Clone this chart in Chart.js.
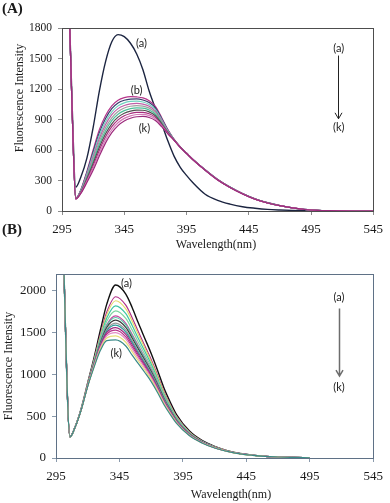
<!DOCTYPE html>
<html>
<head>
<meta charset="utf-8">
<script src="https://cdn.jsdelivr.net/npm/chart.js@4/dist/chart.umd.min.js"></script>
<style>
  html, body { margin: 0; padding: 0; background: #fff; }
  .panel { position: absolute; left: 0; top: 0; width: 390px; height: 503px; }
</style>
</head>
<body>
<div class="panel"><canvas id="chartA" width="390" height="503"></canvas></div>
<div class="panel"><canvas id="chartB" width="390" height="503"></canvas></div>
<script>
// ---- panel (A) data: wavelength (nm) and fluorescence intensity ----
const wavelengthA = [300, 303, 306, 310, 315, 320, 325, 330, 335, 340, 345, 350, 355, 360, 365, 370, 375, 380, 385, 390, 395, 400, 410, 420, 430, 440, 450, 460, 470, 480, 490, 500, 510, 520, 530, 545];
const specA_a = [2350, 1100, 235, 330, 520, 820, 1180, 1470, 1665, 1735, 1715, 1650, 1545, 1390, 1180, 1010, 860, 690, 540, 430, 350, 280, 165, 105, 68, 42, 27, 16, 10, 6, 3, 2, 1, null, null, null];
const specA_b = [2350, 1050, 125, 205, 390, 600, 800, 940, 1035, 1090, 1115, 1125, 1122, 1112, 1085, 1030, 920, 800, 705, 630, 570, 510, 405, 310, 235, 172, 120, 82, 54, 32, 16, 7, 3, 1, 0, 0];
const specA_c = [2350, 1050, 124, 201, 378, 578, 771, 910, 1006, 1062, 1089, 1101, 1103, 1092, 1067, 1014, 910, 796, 704, 630, 570, 510, 405, 310, 235, 172, 120, 82, 54, 32, 16, 7, 3, 1, 0, 0];
const specA_d = [2350, 1050, 123, 197, 366, 556, 742, 880, 976, 1034, 1064, 1078, 1081, 1072, 1048, 999, 900, 791, 703, 629, 569, 509, 404, 309, 234, 171, 119, 81, 53, 32, 16, 7, 3, 1, 0, 0];
const specA_e = [2350, 1050, 123, 193, 353, 533, 713, 850, 947, 1007, 1038, 1054, 1059, 1051, 1030, 983, 890, 787, 702, 629, 569, 509, 404, 309, 234, 171, 119, 81, 53, 31, 16, 7, 3, 1, 0, 0];
const specA_f = [2350, 1050, 122, 189, 341, 511, 685, 820, 917, 979, 1013, 1030, 1037, 1031, 1012, 968, 880, 782, 701, 628, 568, 508, 403, 308, 233, 170, 118, 80, 53, 31, 15, 7, 3, 1, 0, 0];
const specA_g = [2350, 1050, 121, 186, 329, 489, 656, 790, 888, 951, 987, 1007, 1015, 1011, 993, 952, 870, 778, 700, 628, 568, 508, 403, 308, 233, 170, 118, 80, 53, 31, 15, 7, 3, 1, 0, 0];
const specA_h = [2350, 1050, 120, 182, 317, 467, 627, 760, 858, 923, 962, 983, 993, 991, 975, 937, 860, 773, 699, 627, 567, 507, 402, 307, 232, 169, 117, 80, 52, 31, 15, 7, 3, 1, 0, 0];
const specA_i = [2350, 1050, 120, 178, 304, 444, 598, 730, 829, 896, 936, 959, 971, 970, 957, 921, 850, 769, 698, 627, 567, 507, 402, 307, 232, 169, 117, 79, 52, 30, 15, 6, 3, 1, 0, 0];
const specA_j = [2350, 1050, 119, 174, 292, 422, 569, 700, 799, 868, 911, 936, 949, 950, 938, 906, 840, 764, 697, 626, 566, 506, 401, 306, 231, 168, 116, 79, 52, 30, 15, 6, 3, 1, 0, 0];
const specA_k = [2350, 1050, 118, 170, 280, 400, 540, 670, 770, 840, 885, 912, 927, 930, 920, 890, 830, 760, 696, 626, 566, 506, 401, 306, 231, 168, 116, 79, 52, 30, 15, 6, 3, 1, 0, 0];

// ---- panel (B) data ----
const wavelengthB = [300, 306, 310, 315, 320, 325, 330, 335, 342, 350, 355, 360, 365, 370, 375, 380, 385, 390, 400, 410, 420, 430, 440, 450, 460, 470, 480, 495];
const specB_a  = [2900, 256, 370, 600, 900, 1200, 1530, 1840, 2068, 1960, 1800, 1610, 1430, 1250, 1050, 840, 670, 520, 325, 210, 138, 88, 55, 35, 20, 12, 7, 2];
const specB_1  = [2900, 256, 370, 595, 890, 1175, 1480, 1745, 1928, 1827, 1678, 1506, 1342, 1178, 993, 797, 638, 497, 313, 204, 134, 86, 54, 34, 20, 12, 7, 2];
const specB_2  = [2900, 256, 368, 595, 888, 1167, 1460, 1714, 1880, 1782, 1636, 1471, 1313, 1153, 974, 783, 627, 489, 309, 201, 133, 85, 54, 34, 20, 12, 7, 2];
const specB_3  = [2900, 255, 368, 593, 884, 1157, 1438, 1674, 1820, 1725, 1584, 1426, 1276, 1123, 949, 764, 614, 479, 304, 199, 131, 84, 53, 34, 20, 12, 7, 2];
const specB_4  = [2900, 255, 367, 591, 880, 1146, 1416, 1634, 1760, 1668, 1532, 1382, 1238, 1092, 925, 746, 600, 470, 298, 196, 130, 83, 53, 34, 19, 12, 7, 2];
const specB_5  = [2900, 254, 367, 589, 876, 1136, 1394, 1594, 1700, 1611, 1480, 1338, 1201, 1061, 900, 728, 586, 460, 293, 193, 128, 83, 52, 34, 19, 12, 7, 2];
const specB_6  = [2900, 254, 367, 589, 875, 1132, 1386, 1581, 1680, 1592, 1462, 1322, 1188, 1050, 892, 722, 582, 456, 291, 192, 128, 82, 52, 33, 19, 12, 7, 2];
const specB_7  = [2900, 253, 366, 588, 873, 1127, 1375, 1560, 1648, 1562, 1435, 1300, 1169, 1034, 880, 712, 575, 451, 289, 191, 127, 82, 52, 33, 19, 12, 7, 2];
const specB_8  = [2900, 253, 366, 587, 870, 1121, 1362, 1536, 1612, 1529, 1404, 1274, 1147, 1016, 865, 701, 567, 446, 286, 189, 126, 82, 52, 33, 19, 12, 7, 2];
const specB_9  = [2900, 252, 366, 586, 869, 1116, 1353, 1520, 1588, 1505, 1382, 1255, 1131, 1004, 855, 694, 561, 442, 284, 188, 125, 81, 51, 33, 19, 12, 7, 2];
const specB_10 = [2900, 252, 365, 585, 867, 1111, 1342, 1501, 1560, 1478, 1357, 1234, 1113, 989, 843, 685, 555, 437, 281, 187, 124, 81, 51, 33, 19, 12, 7, 2];
const specB_11 = [2900, 251, 365, 584, 865, 1106, 1330, 1480, 1528, 1448, 1330, 1211, 1094, 973, 831, 676, 548, 432, 278, 185, 124, 81, 51, 33, 19, 12, 7, 2];
const specB_12 = [2900, 251, 365, 584, 863, 1101, 1320, 1460, 1500, 1421, 1305, 1189, 1076, 958, 819, 667, 541, 427, 276, 184, 123, 80, 51, 33, 19, 12, 7, 2];
const specB_13 = [2900, 250, 365, 582, 860, 1094, 1305, 1434, 1460, 1384, 1271, 1160, 1052, 938, 803, 655, 532, 421, 272, 182, 122, 80, 50, 32, 19, 12, 7, 2];
const specB_14 = [2900, 250, 364, 581, 857, 1086, 1287, 1403, 1412, 1339, 1229, 1125, 1022, 913, 784, 640, 521, 413, 268, 180, 120, 80, 50, 32, 19, 12, 7, 2];

// tick labels
const xTickValues = [295, 345, 395, 445, 495, 545];
const yTickValuesA = [0, 300, 600, 900, 1200, 1500, 1800];
const yTickValuesB = [0, 500, 1000, 1500, 2000];

const curvesA = [specA_a, specA_b, specA_c, specA_d, specA_e, specA_f, specA_g, specA_h, specA_i, specA_j, specA_k];
const namesA = ['(a)', '(b)', '(c)', '(d)', '(e)', '(f)', '(g)', '(h)', '(i)', '(j)', '(k)'];
const colorsA = ['#1c2541', '#b5338a', '#3a3f6e', '#6fd3c0', '#c060a8', '#a0a0a0', '#4cc09a', '#505050', '#a8307f', '#d47ab8', '#9c2a7c'];

const curvesB = [specB_a, specB_1, specB_2, specB_3, specB_4, specB_5, specB_6, specB_7, specB_8, specB_9, specB_10, specB_11, specB_12, specB_13, specB_14];
const namesB = ['(a)', '1', '2', '3', '4', '5', '6', '7', '8', '9', '10', '11', '12', '13', '(k)'];
const colorsB = ['#111111', '#b0308a', '#e6d96a', '#3fc5a5', '#7ed6a0', '#c44aa0', '#56c8a8', '#3a3a3a', '#9a9a9a', '#2f9d9a', '#a02a80', '#b8358c', '#e38cc4', '#e8df7a', '#3a8a88'];

const SERIF = '"Liberation Serif", "Times New Roman", serif';
const SANS = 'Lato, "Noto Sans", sans-serif';

// frame, titles, panel letters, curve labels and arrow
const decor = {
  id: 'decor',
  afterDraw(chart, args, o) {
    const {ctx, chartArea: ca, scales} = chart;
    const sx = scales.x, sy = scales.y;
    ctx.save();
    ctx.strokeStyle = o.frame;
    ctx.lineWidth = 1;
    ctx.strokeRect(Math.round(ca.left) + 0.5, Math.round(ca.top) + 0.5,
      Math.round(ca.right - ca.left), Math.round(ca.bottom - ca.top));

    ctx.fillStyle = '#1a1a1a';
    ctx.textAlign = 'center';
    ctx.textBaseline = 'middle';
    ctx.font = '12px ' + SERIF;
    ctx.fillText('Wavelength(nm)', o.xTitle[0], o.xTitle[1]);
    ctx.save();
    ctx.translate(o.yTitle[0], o.yTitle[1]);
    ctx.rotate(-Math.PI / 2);
    ctx.fillText('Fluorescence Intensity', 0, 0);
    ctx.restore();

    ctx.textAlign = 'left';
    ctx.font = 'bold 15px ' + SERIF;
    ctx.fillText(o.panel[0], o.panel[1], o.panel[2]);

    ctx.textAlign = 'center';
    ctx.font = '11px ' + SANS;
    ctx.fillStyle = '#222';
    o.notes.forEach(n => {
      ctx.fillText(n[0], sx.getPixelForValue(n[1]), sy.getPixelForValue(n[2]));
    });

    const ax = Math.round(sx.getPixelForValue(o.arrow[0])) + 0.5;
    const ay1 = sy.getPixelForValue(o.arrow[1]);
    const ay2 = sy.getPixelForValue(o.arrow[2]);
    ctx.strokeStyle = o.arrowColor;
    ctx.lineWidth = o.arrowWidth;
    ctx.beginPath();
    ctx.moveTo(ax, ay1);
    ctx.lineTo(ax, ay2);
    ctx.moveTo(ax - 3.5, ay2 - 6);
    ctx.lineTo(ax, ay2);
    ctx.lineTo(ax + 3.5, ay2 - 6);
    ctx.stroke();
    ctx.restore();
  }
};

function buildChart(id, p) {
  const datasets = p.curves.map((vals, i) => ({
    label: p.names[i],
    data: p.wavelength.map((w, j) => ({x: w, y: vals[j]})),
    borderColor: p.colors[i],
    borderWidth: i === 0 ? 1.4 : 1.2,
    pointRadius: 0,
    fill: false,
    cubicInterpolationMode: 'monotone',
    order: p.curves.length - i
  }));
  return new Chart(document.getElementById(id), {
    type: 'line',
    data: {datasets},
    options: {
      responsive: false,
      animation: false,
      events: [],
      layout: {padding: p.padding},
      plugins: {legend: {display: false}, tooltip: {enabled: false}, decor: p.decor},
      scales: {
        x: {
          type: 'linear', min: xTickValues[0], max: xTickValues[xTickValues.length - 1],
          border: {display: false},
          grid: {drawOnChartArea: false, tickLength: 4, color: p.tickColor},
          ticks: {padding: 7, maxRotation: 0, autoSkip: false, color: '#1a1a1a',
                  font: {family: SERIF, size: p.xFont}, callback: v => String(v)},
          afterBuildTicks: s => { s.ticks = xTickValues.map(v => ({value: v})); },
          afterFit: s => { s.height = 30; }
        },
        y: {
          min: 0, max: p.yMax,
          border: {display: false},
          grid: {drawOnChartArea: false, tickLength: 4, color: p.tickColor},
          ticks: {padding: 6, autoSkip: false, color: '#1a1a1a',
                  font: {family: SERIF, size: p.yFont}, callback: v => String(v)},
          afterBuildTicks: s => { s.ticks = p.yTicks.map(v => ({value: v})); },
          afterFit: s => { s.width = p.yWidth; }
        }
      }
    },
    plugins: [decor]
  });
}

buildChart('chartA', {
  wavelength: wavelengthA, curves: curvesA, names: namesA, colors: colorsA,
  yTicks: yTickValuesA, yMax: 1800, yWidth: 62, xFont: 13, yFont: 11.5, tickColor: '#8c8c8c',
  padding: {top: 28, right: 11, bottom: 262, left: 0},
  decor: {
    frame: '#4d4d4d', xTitle: [216, 245], yTitle: [20, 98], panel: ['(A)', 2, 9],
    notes: [['(a)', 358.9, 1647], ['(b)', 354.9, 1183], ['(k)', 361.2, 809], ['(a)', 517.3, 1598], ['(k)', 517.3, 819]],
    arrow: [517, 1529, 907], arrowColor: '#222', arrowWidth: 1
  }
});

buildChart('chartB', {
  wavelength: wavelengthB, curves: curvesB, names: namesB, colors: colorsB,
  yTicks: yTickValuesB, yMax: 2200, yWidth: 56, xFont: 13, yFont: 13, tickColor: '#8a9aac',
  padding: {top: 274, right: 11, bottom: 15, left: 0},
  decor: {
    frame: '#5f7186', xTitle: [231, 495], yTitle: [8.5, 366], panel: ['(B)', 2, 230],
    notes: [['(a)', 350.5, 2088], ['(k)', 342.5, 1252], ['(a)', 518, 1920], ['(k)', 518, 840]],
    arrow: [518, 1788, 980], arrowColor: '#6d6d6d', arrowWidth: 1.5
  }
});
</script>
</body>
</html>
